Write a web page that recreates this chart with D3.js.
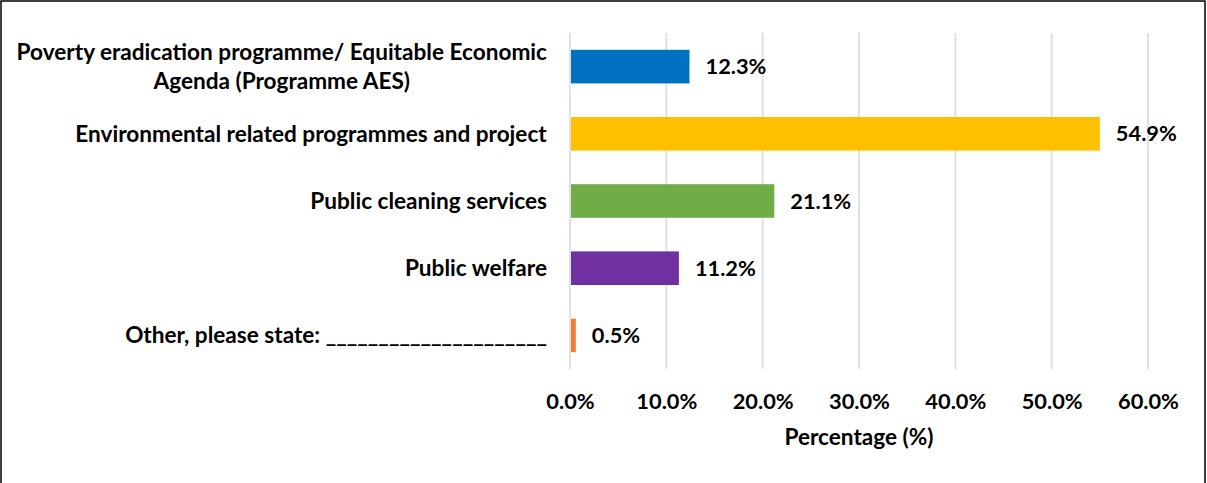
<!DOCTYPE html>
<html>
<head>
<meta charset="utf-8">
<script src="https://cdn.jsdelivr.net/npm/d3@7"></script>
<style>
  html, body { margin: 0; padding: 0; background: #fff; }
  svg { display: block; }
  text { font-family: Lato, "Open Sans", sans-serif; font-weight: 700; fill: #000; }
</style>
</head>
<body>
<svg id="chart" width="1207" height="483"></svg>
<script>
// Categories (top to bottom), multi-line labels split by "\n"
const categories = [
  "Poverty eradication programme/ Equitable Economic\nAgenda (Programme AES)",
  "Environmental related programmes and project",
  "Public cleaning services",
  "Public welfare",
  "Other, please state: _____________________"
];
// Share of respondents, %
const values = [12.3, 54.9, 21.1, 11.2, 0.5];
const barColors = ["#0070C0", "#FFC000", "#70AD47", "#7030A0", "#ED7D31"];
const xTicks = [0, 10, 20, 30, 40, 50, 60];
const xTitle = "Percentage (%)";

const W = 1207, H = 483;
const margin = { top: 33, right: 59, bottom: 114, left: 570 };
const numSize = "21.8px";
const catSize = "22.6px";
const svg = d3.select("#chart");

// Outer frame (open at the bottom edge of the view)
svg.append("rect")
  .attr("x", 1).attr("y", 1)
  .attr("width", 1204).attr("height", H + 10)
  .attr("fill", "none").attr("stroke", "#000").attr("stroke-width", 1.5);

const x = d3.scaleLinear().domain([0, 60]).range([margin.left, W - margin.right]);
const y = d3.scaleBand().domain(categories).range([margin.top, H - margin.bottom]).paddingInner(0.5).paddingOuter(0.25);

// Vertical gridlines
svg.append("g")
  .selectAll("line")
  .data(xTicks)
  .join("line")
  .attr("x1", d => x(d)).attr("x2", d => x(d))
  .attr("y1", margin.top).attr("y2", H - margin.bottom)
  .attr("stroke", "#dde1e8").attr("stroke-width", 2);

// Bars
svg.append("g")
  .selectAll("rect")
  .data(values)
  .join("rect")
  .attr("x", x(0) + 1)
  .attr("y", (d, i) => y(categories[i]))
  .attr("width", d => x(d) - x(0))
  .attr("height", y.bandwidth())
  .attr("fill", (d, i) => barColors[i]);

// Value labels
svg.append("g")
  .selectAll("text")
  .data(values)
  .join("text")
  .attr("x", d => x(d) + 17)
  .attr("y", (d, i) => y(categories[i]) + y.bandwidth() / 2)
  .attr("dy", "0.35em")
  .style("font-size", numSize)
  .text(d => d.toFixed(1) + "%");

// Category labels, multi-line blocks centred on each line, right-aligned as a block
const labelRight = 547;
const lineH = 29;
categories.forEach((c, i) => {
  const lines = c.split("\n");
  const cy = y(c) + y.bandwidth() / 2;
  const g = svg.append("g");
  const t = g.append("text")
    .style("font-size", catSize)
    .attr("text-anchor", "middle");
  lines.forEach((ln, j) => {
    t.append("tspan")
      .attr("x", 0)
      .attr("y", cy + (j - (lines.length - 1) / 2) * lineH)
      .attr("dy", "0.35em")
      .text(ln);
  });
  const bb = t.node().getBBox();
  g.attr("transform", `translate(${labelRight - bb.width / 2},0)`);
});

// X axis tick labels
const xAxis = d3.axisBottom(x).tickValues(xTicks).tickSize(0).tickPadding(0)
  .tickFormat(d => d.toFixed(1) + "%");
const ax = svg.append("g").attr("transform", `translate(0,${H - margin.bottom})`).call(xAxis);
ax.select(".domain").remove();
ax.selectAll("text")
  .attr("y", 32)
  .attr("dy", "0.35em")
  .style("font-size", numSize)
  .style("font-family", "Lato, 'Open Sans', sans-serif")
  .style("font-weight", 700)
  .attr("fill", "#000");

// Axis title
svg.append("text")
  .attr("x", (x(0) + x(60)) / 2)
  .attr("y", 437)
  .attr("dy", "0.35em")
  .attr("text-anchor", "middle")
  .style("font-size", catSize)
  .text(xTitle);
</script>
</body>
</html>
